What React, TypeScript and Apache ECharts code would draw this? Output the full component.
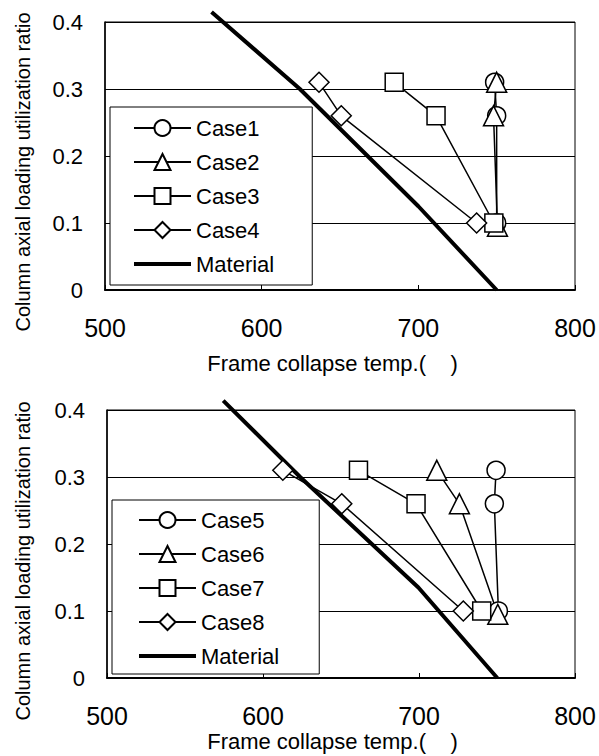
import React, { useEffect, useRef } from "react";
import * as echarts from "echarts";

// ---- data ----
const xTickValues = [500, 600, 700, 800];
const xTickLabels = ["500", "600", "700", "800"];
const yTickValues = [0, 0.1, 0.2, 0.3, 0.4];
const yTickLabels = ["0", "0.1", "0.2", "0.3", "0.4"];

const xTitle = "Frame collapse temp.(    )";
const yTitle = "Column axial loading utilization ratio";

// top chart
const case1 = [[748.7, 0.31], [750, 0.26], [750, 0.1]];
const case2 = [[750, 0.31], [748, 0.26], [750.5, 0.095]];
const case3 = [[684.6, 0.31], [711.3, 0.26], [748.2, 0.1]];
const case4 = [[636.6, 0.31], [650.8, 0.26], [737.2, 0.1]];
const materialTop = [[568, 0.415], [624.4, 0.3], [700, 0.125], [750, 0]];

// bottom chart
const case5 = [[749.4, 0.31], [748.3, 0.26], [750.9, 0.1]];
const case6 = [[711.4, 0.31], [725.9, 0.26], [750.5, 0.095]];
const case7 = [[661.2, 0.31], [698.1, 0.26], [740.2, 0.1]];
const case8 = [[612.7, 0.31], [650.5, 0.26], [728.4, 0.1]];
const materialBottom = [[574.5, 0.414], [623.8, 0.3], [699.6, 0.135], [750.2, 0]];

const topNames = ["Case1", "Case2", "Case3", "Case4"];
const bottomNames = ["Case5", "Case6", "Case7", "Case8"];

const FONT = "'Liberation Sans', Arial, sans-serif";

function caseSeries(name: string, data: number[][], symbol: string, size: any, idx: number) {
  return {
    type: "line",
    name,
    data,
    xAxisIndex: idx,
    yAxisIndex: idx,
    symbol,
    symbolSize: size,
    showSymbol: true,
    clip: false,
    lineStyle: { color: "#000", width: 1.5 },
    itemStyle: { color: "#fff", borderColor: "#000", borderWidth: 1.5 },
    emphasis: { disabled: true },
  };
}

function materialSeries(data: number[][], idx: number) {
  return {
    type: "line",
    name: "Material",
    data,
    xAxisIndex: idx,
    yAxisIndex: idx,
    symbol: "none",
    clip: false,
    lineStyle: { color: "#000", width: 4 },
    itemStyle: { color: "#000" },
    emphasis: { disabled: true },
    z: 1,
  };
}

function xAxis(idx: number) {
  return {
    type: "value",
    gridIndex: idx,
    min: 500,
    max: 800,
    interval: 100,
    axisLine: { show: true, lineStyle: { color: "#000", width: 2 } },
    axisTick: { show: true, inside: true, length: 5, lineStyle: { color: "#000", width: 1 } },
    splitLine: { show: false },
    axisLabel: {
      margin: 25,
      fontSize: 25,
      fontFamily: FONT,
      color: "#000",
      formatter: (v: number) => {
        const i = xTickValues.indexOf(v);
        return i >= 0 ? xTickLabels[i] : String(v);
      },
    },
  };
}

function yAxis(idx: number) {
  return {
    type: "value",
    gridIndex: idx,
    min: 0,
    max: 0.4,
    interval: 0.1,
    axisLine: { show: true, lineStyle: { color: "#000", width: 1.5 } },
    axisTick: { show: true, inside: true, length: 5, lineStyle: { color: "#000", width: 1 } },
    splitLine: { show: true, lineStyle: { color: "#000", width: 1 } },
    axisLabel: {
      margin: 22,
      fontSize: 22,
      fontFamily: FONT,
      color: "#000",
      formatter: (v: number) => {
        const i = yTickValues.findIndex((t) => Math.abs(t - v) < 1e-9);
        return i >= 0 ? yTickLabels[i] : String(v);
      },
    },
  };
}

const materialIcon = "path://M0,0H57V4H0Z";

function legend(names: string[], left: number, top: number, padding: number[]) {
  return {
    orient: "vertical",
    left,
    top,
    padding,
    itemWidth: 57,
    itemHeight: 20,
    itemGap: 12,
    backgroundColor: "#fff",
    borderColor: "#000",
    borderWidth: 1,
    selectedMode: false,
    textStyle: { fontSize: 22, fontFamily: FONT, color: "#000" },
    data: [...names, { name: "Material", icon: materialIcon }],
  };
}

function titleText(text: string, x: number, y: number, size: number, rotation = 0) {
  return {
    type: "text",
    x,
    y,
    rotation,
    silent: true,
    style: {
      text,
      fill: "#000",
      font: `${size}px ${FONT}`,
      textAlign: "center",
      textVerticalAlign: "middle",
    },
  };
}

export default function App() {
  const ref = useRef<HTMLDivElement>(null);
  useEffect(() => {
    if (!ref.current) return;
    const chart = echarts.init(ref.current, null, { renderer: "svg" });
    chart.setOption({
      animation: false,
      backgroundColor: "#fff",
      grid: [
        { left: 105, right: 24, top: 22, height: 268, show: true, borderColor: "#000", borderWidth: 1, containLabel: false },
        { left: 107, right: 24, top: 410, height: 268, show: true, borderColor: "#000", borderWidth: 1, containLabel: false },
      ],
      xAxis: [xAxis(0), xAxis(1)],
      yAxis: [yAxis(0), yAxis(1)],
      legend: [
        legend(topNames, 110, 107, [10, 38, 10, 23]),
        legend(bottomNames, 112, 500, [9, 40, 7, 26]),
      ],
      graphic: [
        titleText(xTitle, 332.5, 363, 22),
        titleText(xTitle, 332.5, 741, 22),
        titleText(yTitle, 23, 172, 20, Math.PI / 2),
        titleText(yTitle, 23, 561, 20, Math.PI / 2),
      ],
      series: [
        materialSeries(materialTop, 0),
        caseSeries("Case1", case1, "circle", 18, 0),
        caseSeries("Case2", case2, "triangle", [20, 20], 0),
        caseSeries("Case3", case3, "rect", 18, 0),
        caseSeries("Case4", case4, "diamond", [20, 20], 0),
        materialSeries(materialBottom, 1),
        caseSeries("Case5", case5, "circle", 18, 1),
        caseSeries("Case6", case6, "triangle", [20, 20], 1),
        caseSeries("Case7", case7, "rect", 18, 1),
        caseSeries("Case8", case8, "diamond", [20, 20], 1),
      ],
    });
    return () => chart.dispose();
  }, []);
  return (
    <div
      ref={ref}
      style={{ position: "absolute", left: 0, top: 0, width: 599, height: 756, background: "#fff" }}
    />
  );
}
